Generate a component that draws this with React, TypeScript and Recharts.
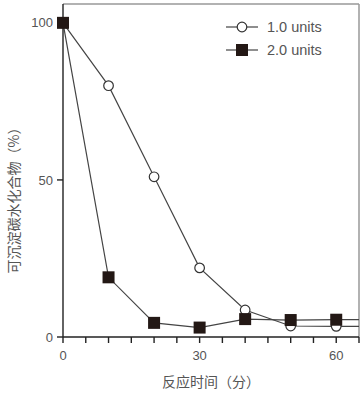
import { LineChart, Line, XAxis, YAxis, ReferenceLine, Label } from "recharts";

// 反应时间（分）
const times = [0, 10, 20, 30, 40, 50, 60];
const series1 = [100, 80, 51, 22, 8.6, 3.5, 3.4]; // 1.0 units
const series2 = [100, 19, 4.5, 3, 5.7, 5.4, 5.5]; // 2.0 units
const xEnd = 65;
const xTicks = [0, 5, 10, 15, 20, 25, 30, 35, 40, 45, 50, 55, 60, 65];
const yTicks = [0, 50, 100];
const yTop = 106;

// lines run on flat to the right frame after the last measurement
const data = [
  ...times.map((t, i) => ({ t, a: series1[i], b: series2[i] })),
  { t: xEnd, a: series1[series1.length - 1], b: series2[series2.length - 1] },
];

const last = times.length - 1;

const CircleDot = (props: any) => {
  const { cx, cy, index } = props;
  if (index > last) return <g key={`c${index}`} />;
  return <circle key={`c${index}`} cx={cx} cy={cy} r={4.8} fill="#fff" stroke="#333" strokeWidth={1.2} />;
};

const SquareDot = (props: any) => {
  const { cx, cy, index } = props;
  if (index > last) return <g key={`s${index}`} />;
  return <rect key={`s${index}`} x={cx - 6} y={cy - 6} width={12} height={12} fill="#231815" />;
};

const font = "Liberation Sans, Arial, sans-serif";
const cjk = "Noto Sans CJK SC";

export default function App() {
  return (
    <div style={{ position: "absolute", left: 0, top: 0, width: 364, height: 394, background: "#fff" }}>
      <LineChart width={364} height={394} data={data} margin={{ top: 4, right: 5, left: 0, bottom: 0 }}>
        <XAxis
          dataKey="t"
          type="number"
          domain={[0, xEnd]}
          ticks={xTicks}
          interval={0}
          tickFormatter={(v) => (v % 30 === 0 ? String(v) : "")}
          height={57}
          stroke="#222"
          strokeWidth={1.4}
          tickSize={6}
          tickMargin={8}
          tick={{ fill: "#555", fontSize: 13, fontFamily: font }}
        >
          <Label value="反应时间（分）" position="insideBottom" offset={7} style={{ fill: "#555", fontSize: 14, fontFamily: cjk }} />
        </XAxis>
        <YAxis
          type="number"
          domain={[0, yTop]}
          ticks={yTicks}
          width={63}
          stroke="#222"
          strokeWidth={1.4}
          tickSize={6}
          tickMargin={4}
          tick={{ fill: "#555", fontSize: 13, fontFamily: font }}
        />
        <ReferenceLine y={yTop} stroke="#999" strokeWidth={1.5} />
        <ReferenceLine x={xEnd} stroke="#999" strokeWidth={1.5} />
        <Line dataKey="a" stroke="#444" strokeWidth={1.2} dot={<CircleDot />} isAnimationActive={false} />
        <Line dataKey="b" stroke="#444" strokeWidth={1.2} dot={<SquareDot />} isAnimationActive={false} />
        {/* y axis title */}
        <text
          transform="translate(13,197) rotate(-90)"
          textAnchor="middle"
          dominantBaseline="central"
          fontFamily={cjk}
          fontSize={14}
          fill="#555"
        >
          可沉淀碳水化合物（%）
        </text>
        {/* legend */}
        <g fontFamily={font} fontSize={14.5} fill="#555">
          <line x1={226} x2={258} y1={27} y2={27} stroke="#444" strokeWidth={1.2} />
          <circle cx={242} cy={27} r={4.8} fill="#fff" stroke="#333" strokeWidth={1.2} />
          <text x={267} y={32}>1.0 units</text>
          <line x1={226} x2={258} y1={50} y2={50} stroke="#444" strokeWidth={1.2} />
          <rect x={236} y={44} width={12} height={12} fill="#231815" />
          <text x={267} y={55}>2.0 units</text>
        </g>
      </LineChart>
    </div>
  );
}
